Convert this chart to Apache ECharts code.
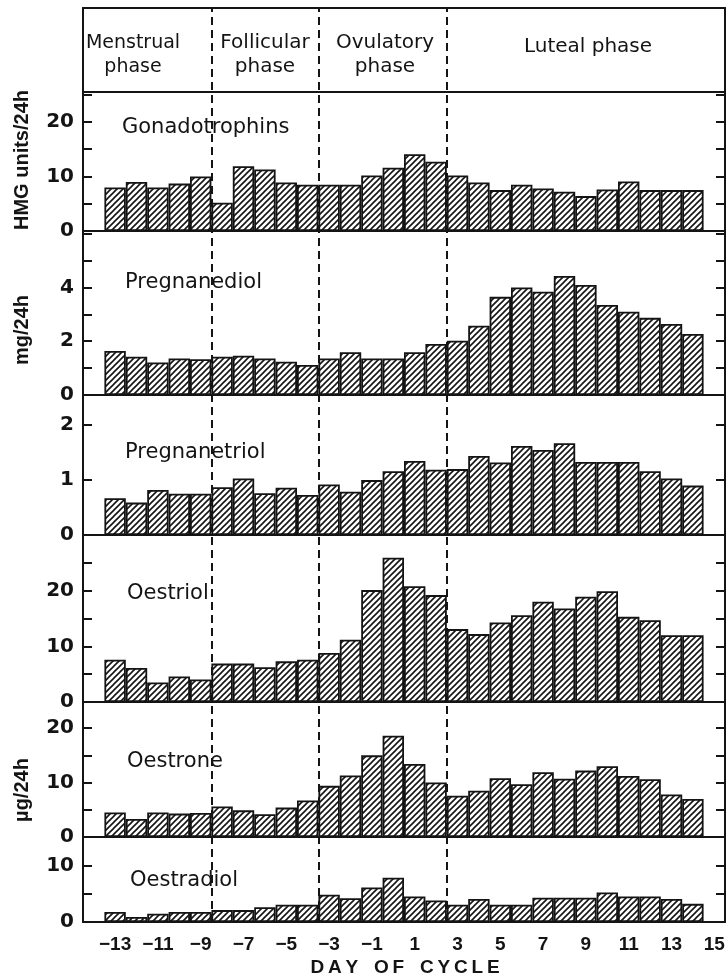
<!DOCTYPE html>
<html><head><meta charset="utf-8">
<script src="https://cdn.jsdelivr.net/npm/echarts@6/dist/echarts.min.js"></script>
<style>html,body{margin:0;padding:0;background:#fff}#c{width:728px;height:979px}</style>
</head><body><div id="c"></div>
<script>
// ---- data ----
const days = [-14,-13,-12,-11,-10,-9,-8,-7,-6,-5,-4,-3,-2,-1,0,1,2,3,4,5,6,7,8,9,10,11,12,13,14,15];
const xTickDays = [-13,-11,-9,-7,-5,-3,-1,1,3,5,7,9,11,13,15];
const phaseBoundaries = [-8.5, -3.5, 2.5];
const phaseNames = ['Menstrual\nphase', 'Follicular\nphase', 'Ovulatory\nphase', 'Luteal phase'];
const panelNames = ['Gonadotrophins','Pregnanediol','Pregnanetriol','Oestriol','Oestrone','Oestradiol'];
// values for days -13 ... 14
const gonadotrophins = [8.0,9.0,8.0,8.7,10.0,5.2,11.9,11.3,8.9,8.5,8.5,8.5,10.2,11.6,14.1,12.7,10.2,8.9,7.5,8.5,7.8,7.2,6.4,7.6,9.1,7.5,7.5,7.5];
const pregnanediol = [1.64,1.42,1.21,1.36,1.33,1.42,1.46,1.36,1.24,1.12,1.36,1.59,1.36,1.36,1.59,1.9,2.02,2.58,3.65,4.0,3.84,4.43,4.09,3.35,3.1,2.87,2.64,2.27];
const pregnanetriol = [0.67,0.59,0.82,0.75,0.75,0.87,1.03,0.76,0.86,0.73,0.92,0.79,1.0,1.16,1.35,1.19,1.2,1.44,1.32,1.62,1.55,1.67,1.33,1.33,1.33,1.16,1.03,0.9];
const oestriol = [7.6,6.1,3.5,4.6,4.05,6.9,6.9,6.25,7.3,7.6,8.8,11.2,20.1,25.9,20.8,19.2,13.1,12.2,14.3,15.6,18.0,16.8,18.9,19.9,15.3,14.7,12.0,12.0];
const oestrone = [4.5,3.3,4.5,4.3,4.4,5.6,4.9,4.2,5.4,6.7,9.4,11.3,15.0,18.6,13.4,10.0,7.6,8.5,10.8,9.7,11.9,10.7,12.2,13.0,11.2,10.6,7.8,7.0];
const oestradiol = [1.76,0.9,1.46,1.76,1.76,2.1,2.1,2.6,3.05,3.05,4.8,4.2,6.1,7.8,4.5,3.8,3.05,4.06,3.05,3.05,4.3,4.3,4.3,5.2,4.5,4.5,4.06,3.2];
const seriesValues = [gonadotrophins, pregnanediol, pregnanetriol, oestriol, oestrone, oestradiol];
const yMax = [25.5, 6.1, 2.55, 30, 24.8, 15];
const yTickStep = [5, 1, 1, 5, 5, 5];
const yLabelStep = [10, 2, 1, 10, 10, 10];
const yLabelTop = [20, 4, 2, 20, 20, 10];

// ---- layout (pixels) ----
const L = 83, R = 3;
const panelTop = [92, 231, 395, 535, 702, 837];
const panelBottom = [231, 395, 535, 702, 837, 922];
const frameTop = 8;
const FONT = '"DejaVu Sans", sans-serif';
const FONT2 = '"Liberation Sans", Arial, sans-serif';
const INK = '#141414';

// hatch pattern
const pc = document.createElement('canvas');
pc.width = 6; pc.height = 6;
const g = pc.getContext('2d');
g.fillStyle = '#fff'; g.fillRect(0,0,6,6);
g.strokeStyle = INK; g.lineWidth = 1.6; g.lineCap = 'square';
g.beginPath();
g.moveTo(-1,7); g.lineTo(7,-1);
g.moveTo(-4,4); g.lineTo(4,-4);
g.moveTo(2,10); g.lineTo(10,2);
g.stroke();
const hatch = {image: pc, repeat: 'repeat'};

const grid = [], xAxis = [], yAxis = [], series = [];
for (let i = 0; i < 6; i++) {
  grid.push({left: L, right: R, top: panelTop[i], height: panelBottom[i] - panelTop[i],
    show: true, borderColor: INK, borderWidth: 2, backgroundColor: 'transparent'});
  const last = i === 5;
  xAxis.push({type: 'category', gridIndex: i, data: days, boundaryGap: true,
    axisLine: {show: false}, axisTick: {show: false},
    axisLabel: {show: last, interval: 0, margin: 13, color: INK, fontFamily: FONT2, fontWeight: 'bold', fontSize: 19,
      formatter: v => xTickDays.indexOf(Number(v)) >= 0 ? String(v).replace('-', '\u2212') : ''}});
  const common = {type: 'value', gridIndex: i, min: 0, max: yMax[i], interval: yTickStep[i],
    splitLine: {show: false}, axisLine: {show: false},
    axisTick: {show: true, inside: true, length: 9, lineStyle: {color: INK, width: 2}}};
  yAxis.push(Object.assign({}, common, {position: 'left',
    axisLabel: {show: true, margin: 9, color: INK, fontFamily: FONT, fontWeight: 'bold', fontSize: 20,
      formatter: v => (Math.abs(v % yLabelStep[i]) < 1e-9 && v <= yLabelTop[i]) ? String(v) : ''}}));
  yAxis.push(Object.assign({}, common, {position: 'right', axisLabel: {show: false}}));
  series.push({type: 'bar', name: panelNames[i], xAxisIndex: i, yAxisIndex: 2 * i,
    data: [null].concat(seriesValues[i]).concat([null]),
    barCategoryGap: '0%', silent: true,
    itemStyle: {color: hatch, borderColor: INK, borderWidth: 1.8}});
}
// overlay grid: outer frame + phase boundaries
grid.push({left: L, right: R, top: frameTop, bottom: 979 - panelBottom[5], show: true,
  borderColor: INK, borderWidth: 2, backgroundColor: 'transparent'});
xAxis.push({type: 'value', gridIndex: 6, min: -14.5, max: 15.5, show: false});
yAxis.push({type: 'value', gridIndex: 6, min: 0, max: 1, show: false});
series.push({type: 'line', xAxisIndex: 6, yAxisIndex: 12, data: [], silent: true,
  markLine: {symbol: 'none', silent: true, label: {show: false},
    lineStyle: {color: INK, width: 2, type: [8, 5]},
    data: phaseBoundaries.map(v => ({xAxis: v}))}});

const txt = (text, x, y, font, extra) => ({type: 'text', x, y, silent: true,
  style: Object.assign({text, font, fill: INK, textAlign: 'left', textVerticalAlign: 'middle'}, extra || {})});
const F20 = '20px ' + FONT, F21 = '21px ' + FONT;
const vt = (text, x, y) => ({type: 'text', x, y, rotation: Math.PI / 2, silent: true,
  style: {text, font: 'bold 20px ' + FONT2, fill: INK, textAlign: 'center', textVerticalAlign: 'middle'}});

const graphic = [
  txt(phaseNames[0], 133, 55, '19px ' + FONT, {textAlign: 'center', lineHeight: 24}),
  txt(phaseNames[1], 265, 55, F20, {textAlign: 'center', lineHeight: 24}),
  txt(phaseNames[2], 385, 55, F20, {textAlign: 'center', lineHeight: 24}),
  txt(phaseNames[3], 588, 47, F20, {textAlign: 'center'}),
  txt(panelNames[0], 122, 128, F21),
  txt(panelNames[1], 125, 283, F21),
  txt(panelNames[2], 125, 453, F21),
  txt(panelNames[3], 127, 594, F21),
  txt(panelNames[4], 127, 762, F21),
  txt(panelNames[5], 130, 881, F21),
  txt('D\u2009A\u2009Y   O\u2009F   C\u2009Y\u2009C\u2009L\u2009E', 405, 968, 'bold 19px ' + FONT2, {textAlign: 'center'}),
  vt('HMG units/24h', 22, 160),
  vt('mg/24h', 22, 330),
  vt('\u00b5g/24h', 22, 790)
];

const chart = echarts.init(document.getElementById('c'), null, {renderer: 'canvas'});
chart.setOption({backgroundColor: '#fff', animation: false, grid, xAxis, yAxis, series, graphic});
</script></body></html>
